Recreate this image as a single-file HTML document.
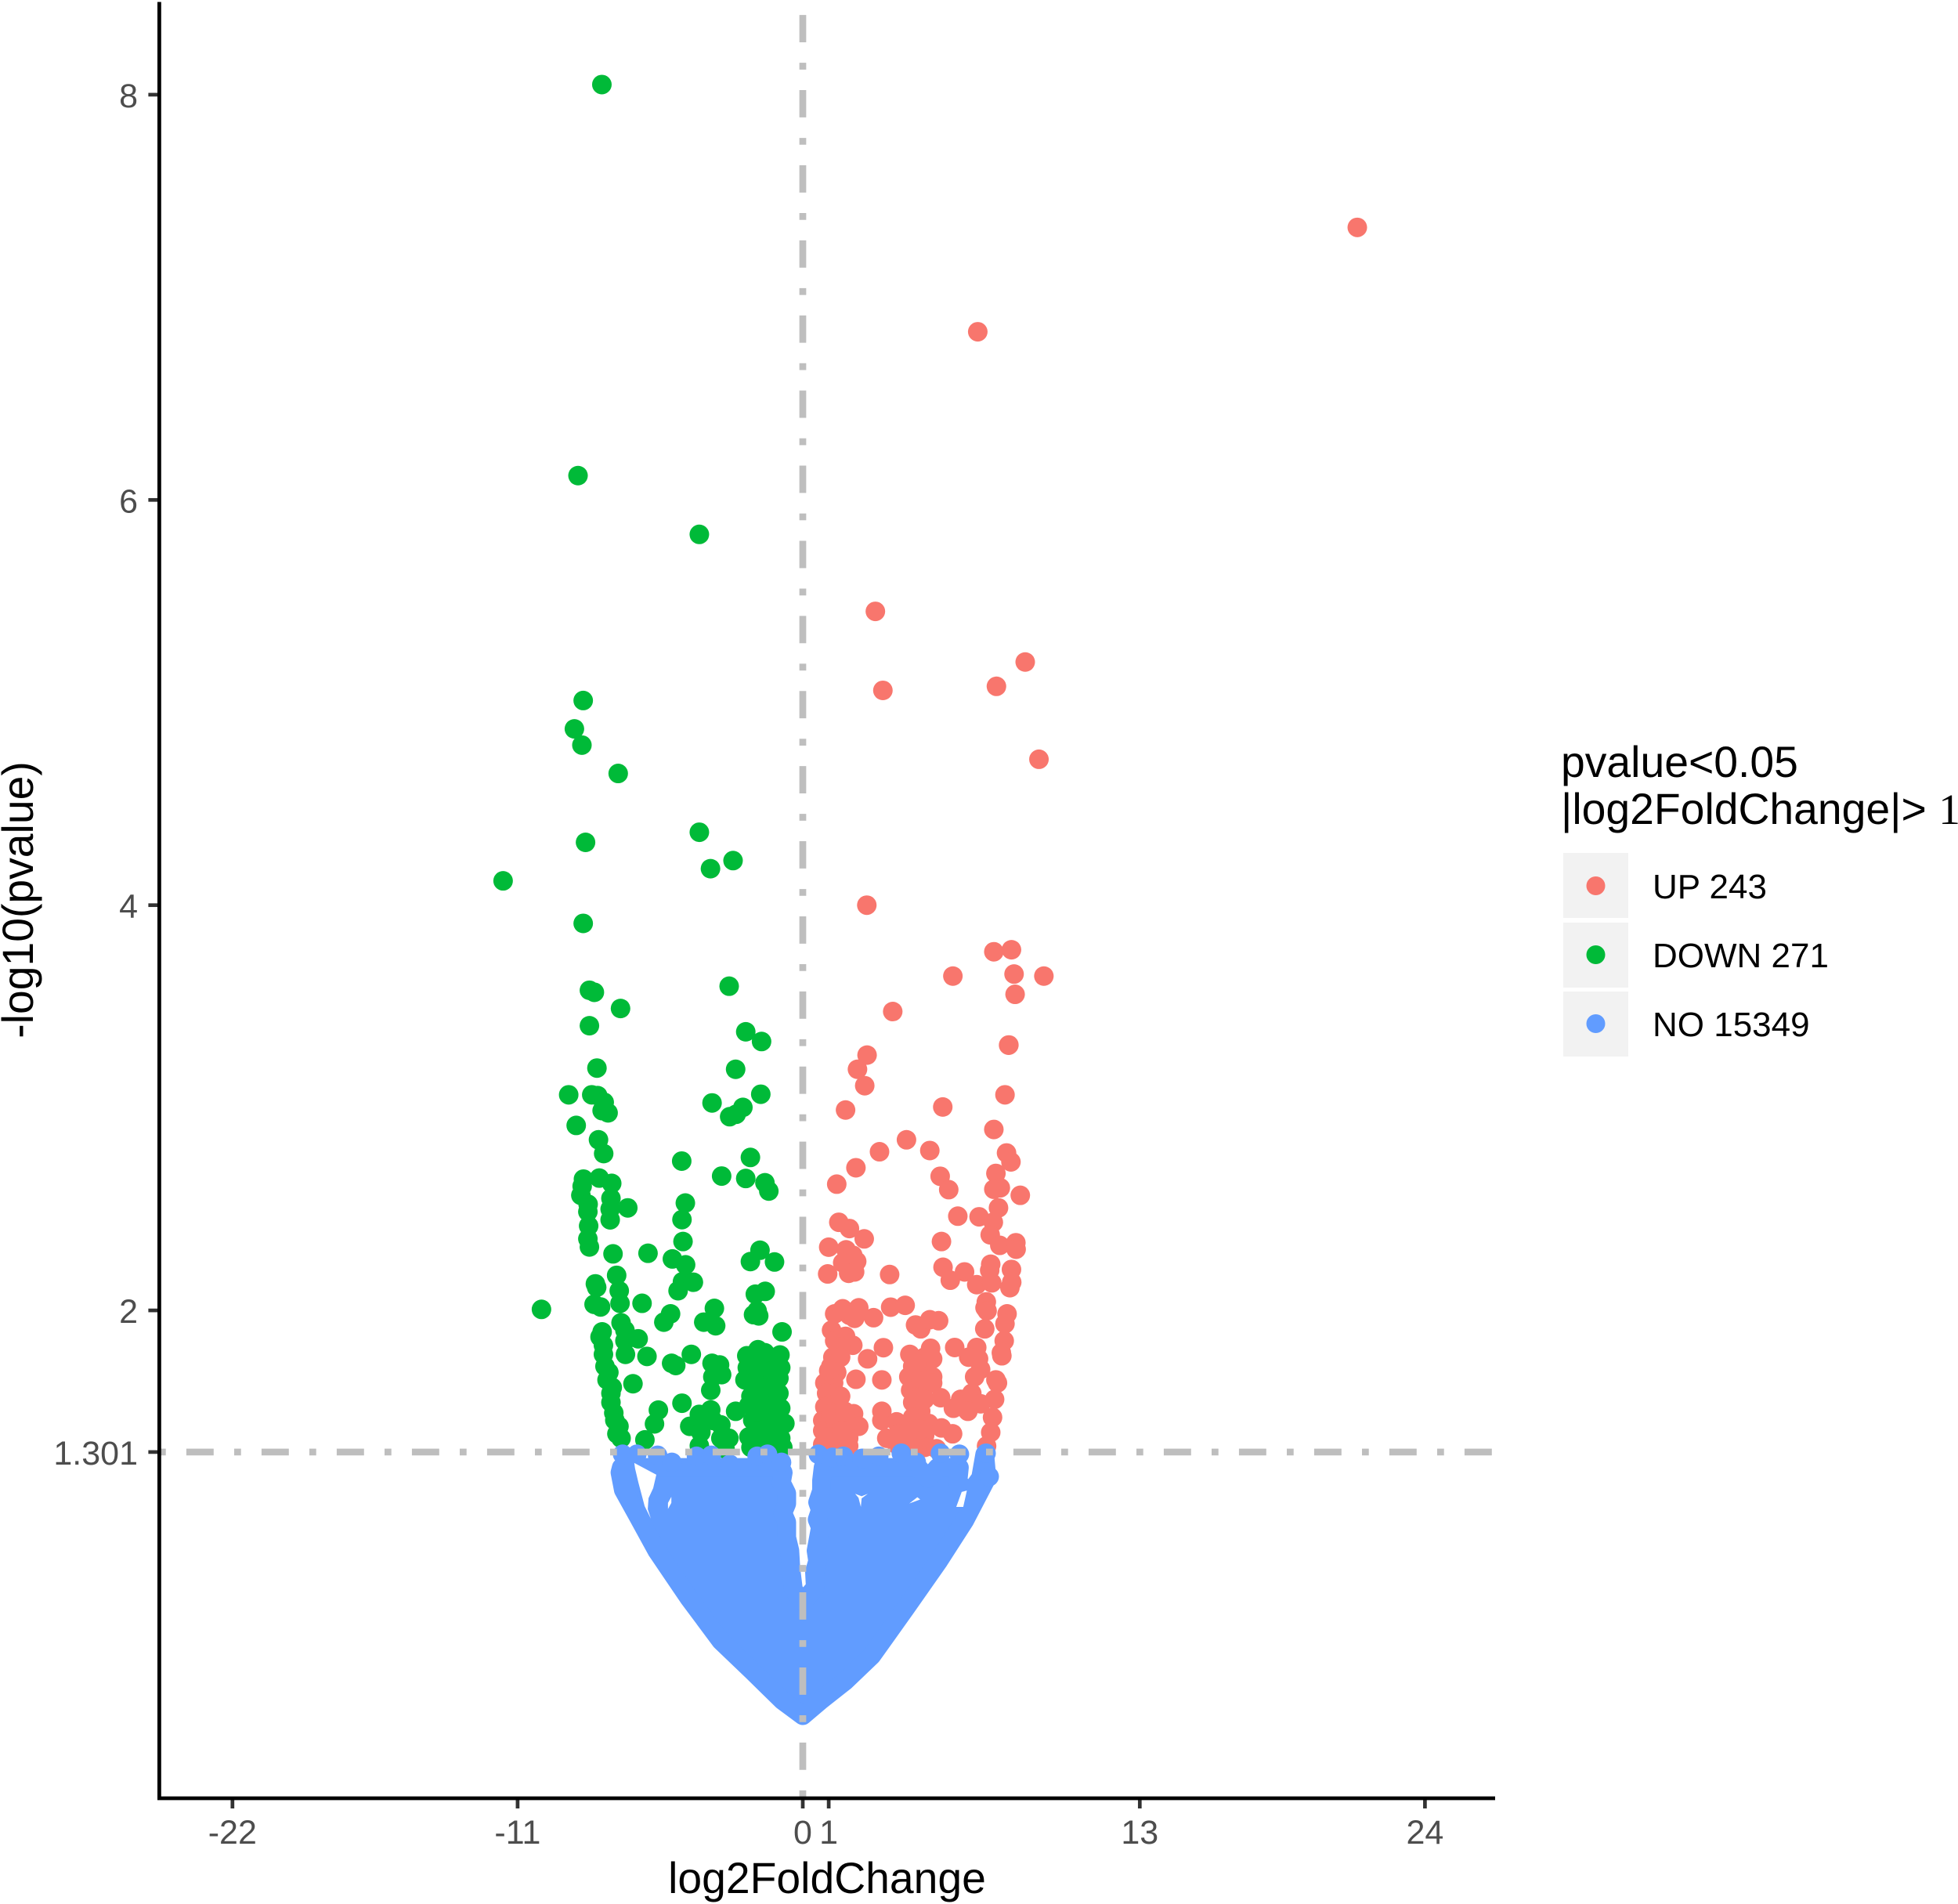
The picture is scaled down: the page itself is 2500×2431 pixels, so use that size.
<!DOCTYPE html>
<html lang="en">
<head>
<meta charset="utf-8">
<title>Volcano plot</title>
<style>
html,body{margin:0;padding:0;background:#fff;width:2500px;height:2431px;overflow:hidden}
svg{display:block}
text{font-family:"Liberation Sans",sans-serif}
.tick{font-size:43px;fill:#4D4D4D}
.title{font-size:55.3px;fill:#000}
.leg{font-size:44px;fill:#000}
</style>
</head>
<body>
<svg id="chart" xmlns="http://www.w3.org/2000/svg" width="2500" height="2431" viewBox="0 0 2500 2431">
  <rect width="2500" height="2431" fill="#fff"/>
  <g id="marks"></g>
  <g id="refs"></g>
  <g id="axes"></g>
  <text class="title" x="1056" y="2417" text-anchor="middle">log2FoldChange</text>
  <text class="title" transform="translate(42,1149) rotate(-90)" text-anchor="middle">-log10(pvalue)</text>
  <g>
    <text class="title" x="1993" y="992">pvalue&lt;0.05</text>
    <text class="title" x="1993" y="1052">|log2FoldChange|&gt; <tspan style="font-family:'Liberation Serif',serif">1</tspan></text>
    <g>
      <rect x="1996" y="1089" width="83" height="83" fill="#F2F2F2"/>
      <circle cx="2037.5" cy="1131" r="12" fill="#F8766D"/>
      <text class="leg" x="2110" y="1147">UP 243</text>
    </g>
    <g>
      <rect x="1996" y="1178" width="83" height="83" fill="#F2F2F2"/>
      <circle cx="2037.5" cy="1219" r="12" fill="#00BA38"/>
      <text class="leg" x="2110" y="1235">DOWN 271</text>
    </g>
    <g>
      <rect x="1996" y="1266" width="83" height="83" fill="#F2F2F2"/>
      <circle cx="2037.5" cy="1307" r="12" fill="#619CFF"/>
      <text class="leg" x="2110" y="1323">NO 15349</text>
    </g>
  </g>
</svg>
<script>
const xTickValues = [-22, -11, 0, 1, 13, 24];
const yTickValues = [1.301, 2, 4, 6, 8];
const yTickLabels = ['1.301', '2', '4', '6', '8'];
const pThreshold = 1.301;
const fcCenter = 0;

const upX = [21.39,6.75,2.80,8.58,3.09,7.47,9.11,2.47,7.37,8.05,5.79,8.15,9.30,8.19,3.47,7.95,
2.48,2.11,2.39,7.94,7.80,1.65,5.40,7.37,4.0,2.96,4.90,2.05,1.31,5.30,5.63,7.86,8.03,7.45,7.62,7.37,8.39,7.55,5.98,6.80,7.35,7.23,
1.39,1.80,2.37,1.0,5.35,7.6,8.22,8.23,1.67,1.93,1.54,2.08,.96,1.77,2.0,3.35,5.41,6.24,5.69,6.71,7.25,7.21,7.29,8.05,8.06,7.99,
7.08,7.03,7.11,7.88,7.80,7.02,1.23,1.54,2.16,1.80,2.0,2.73,3.39,3.95,4.35,4.55,4.90,5.24,1.11,1.65,1.23,1.93,1.46,7.77,7.66,7.68,
3.11,2.50,5.86,6.71,4.93,4.13,5.01,4.70,6.40,6.78,6.86,6.63,4.09,4.24,4.70,5.01,2.05,3.05,1.16,1.08,1.46,.85,1.31,1.19,1.23,.92,
.85,1.31,.77,1.23,.77,1.23,1.77,1.96,2.16,1.77,.77,1.77,1.23,7.45,7.51,7.40,7.32,7.25,7.09,6.09,6.52,6.86,5.81,6.37,5.32,4.16,4.62,5.01,
4.24,4.55,4.24,4.86,4.32,4.70,3.05,3.05,3.62,3.24,3.70,4.16,5.35,5.78,3.62,4.70,5.16,4.24,
1.0,1.46,1.08,1.0,1.54,1.62,4.39,4.70,4.55,4.09,4.55,4.39];
const upY = [7.345,6.83,5.45,5.20,5.06,5.08,4.72,4.0,3.77,3.78,3.65,3.66,3.65,3.56,3.475,3.31,
3.26,3.19,3.109,3.309,3.064,2.989,3.004,2.893,2.842,2.783,2.789,2.704,2.623,2.662,2.596,2.777,2.733,2.676,2.605,2.598,2.568,2.506,2.465,2.462,2.435,2.373,
2.435,2.404,2.353,2.312,2.34,2.321,2.334,2.302,2.299,2.272,2.235,2.242,2.18,2.183,2.19,2.177,2.213,2.19,2.149,2.127,2.228,2.198,2.136,2.202,2.139,2.112,
2.042,2.013,1.998,1.983,1.934,1.909,1.983,2.008,2.013,1.976,1.961,1.964,2.016,2.025,1.928,1.909,1.954,1.949,1.902,1.872,1.85,1.828,1.82,1.85,1.791,1.776,
1.816,1.761,1.817,1.817,1.813,1.783,1.761,1.769,1.769,1.761,1.709,1.672,1.672,1.724,1.709,1.672,1.66,1.657,1.769,1.724,1.769,1.642,1.694,1.642,1.591,1.591,
1.524,1.524,1.457,1.457,1.406,1.406,1.457,1.49,1.428,1.369,1.339,1.331,1.339,1.657,1.642,1.561,1.472,1.398,1.331,1.561,1.591,1.539,1.517,1.502,1.569,1.606,1.606,1.642,
1.546,1.502,1.472,1.442,1.413,1.383,1.502,1.457,1.45,1.369,1.391,1.369,1.42,1.391,1.339,1.324,1.317,1.331,
1.702,1.576,1.487,1.376,1.406,1.502,1.665,1.561,1.413,1.406,1.665,1.739];

const downX = [-7.75,-8.67,-3.99,-8.47,-8.81,-8.52,-7.12,-3.99,-2.69,-3.56,-8.38,-11.56,-8.47,-2.84,-8.23,-8.04,-7.03,
-8.23,-2.20,-1.59,-7.94,-2.59,-9.03,-8.14,-7.91,-7.66,-7.74,-7.51,-1.62,-3.50,-2.31,-2.57,-2.82,-8.74,-7.88,-7.68,-4.67,-2.02,-3.13,-2.20,-1.46,-1.31,
-8.46,-7.85,-7.37,-8.51,-8.56,-7.40,-8.28,-8.29,-7.43,-6.75,-7.43,-4.53,-4.66,-8.26,-8.29,-8.23,-7.32,-5.97,-4.62,-5.03,-4.52,-1.65,-2.02,-1.09,
-7.18,-8.0,-7.95,-7.08,-4.64,-4.22,-4.81,-1.45,-1.83,-8.05,-7.8,-7.05,-6.2,-10.08,-5.10,-5.36,-3.41,-3.82,-3.36,-1.76,-1.70,-1.90,-.80,
-7.01,-6.86,-6.35,-7.74,-7.82,-6.86,-6.84,-7.69,-7.69,-7.63,-6.01,-4.30,-5.06,-4.9,-6.55,-7.55,-7.40,-7.40,-7.29,-7.09,-7.01,-5.57,-5.72,-6.09,
-4.66,-3.55,-3.5,-3.21,-3.47,-3.13,-3.55,-3.99,-4.36,-3.16,-3.47,-3.93,-3.99,-3.16,-2.85,-3.0,-2.59,
-2.16,-1.73,-.88,-2.14,-1.46,-.85,-2.23,-1.62,-1.16,-2.0,-1.54,-.92,-2.08,-1.46,-.85,-1.93,-1.31,-.69,-2.08,-1.46,-.85,-2.0,-1.31,-.77,-1.69,-1.16,-1.8,-1.2,-1.75,-1.2,
-1.93,-1.16,-1.69,-1.16,-1.77,-1.0,-1.69,-1.08,-.92,-1.46,-7.48,-7.35,-7.25,-7.17];
const downY = [8.05,6.12,5.83,5.01,4.87,4.79,4.65,4.36,4.22,4.18,4.31,4.12,3.91,3.60,3.58,3.57,3.49,
3.405,3.375,3.327,3.196,3.19,3.064,3.064,3.06,3.027,2.986,2.975,3.067,3.024,3.002,2.968,2.956,2.913,2.842,2.774,2.737,2.755,2.663,2.651,2.63,2.589,
2.648,2.653,2.627,2.613,2.568,2.553,2.524,2.487,2.50,2.506,2.447,2.53,2.448,2.417,2.353,2.313,2.279,2.282,2.34,2.254,2.225,2.297,2.241,2.239,
2.173,2.131,2.114,2.097,2.142,2.139,2.097,2.094,2.08,2.03,2.017,2.035,2.035,2.005,1.983,1.942,2.01,1.942,1.924,1.998,1.973,1.979,1.894,
1.939,1.902,1.86,1.894,1.869,1.85,1.783,1.828,1.783,1.724,1.773,1.783,1.739,1.728,1.638,1.657,1.591,1.546,1.494,1.428,1.369,1.508,1.44,1.361,
1.542,1.606,1.739,1.731,1.672,1.683,1.509,1.487,1.428,1.435,1.457,1.398,1.332,1.369,1.369,1.317,1.502,
1.776,1.806,1.78,1.717,1.739,1.717,1.657,1.672,1.665,1.576,1.613,1.591,1.532,1.539,1.517,1.458,1.472,1.442,1.376,1.398,1.369,1.324,1.339,1.324,1.42,1.569,1.72,1.70,1.50,1.42,
1.643,1.62,1.576,1.517,1.502,1.458,1.376,1.376,1.665,1.791,1.694,1.62,1.458,1.391];

const noX = [-6.95,-6.40,-5.60,-5.05,-4.10,-3.53,-2.81,-1.76,-1.36,-.82,.60,1.15,1.57,2.29,2.93,3.80,4.38,5.31,6.04,7.07,7.19];
const noY = [1.29,1.29,1.285,1.25,1.28,1.285,1.24,1.28,1.29,1.25,1.29,1.275,1.28,1.27,1.28,1.295,1.25,1.295,1.29,1.295,1.18];

const noCloudX = [0,-.79,-1.93,-3.16,-4.40,-5.62,-6.34,-6.92,-7.05,-7.0,-.858,-.755,-.825,-.62,-.62,-.77,-.62,-.62,-.5,-.46,-.36,0,.483,.453,.574,.514,.68,.556,.68,.574,.725,.725,.785,4.45,4.83,5.2,6.04,5.98,6.45,6.86,7.02,7.10,6.25,5.23,3.97,2.66,1.63,.69];
const noCloudY = [0,.075,.218,.369,.582,.812,.98,1.114,1.2,1.225,1.225,1.2,1.15,1.097,1.046,1.0,.955,.879,.814,.725,.62,.56,.632,.71,.763,.814,.93,.968,1.015,1.053,1.11,1.16,1.225,1.225,1.17,1.225,1.225,1.15,1.1,1.173,1.29,1.173,.964,.761,.531,.296,.17,.075];

const gapAX = [-6.50,-5.65,-5.77,-5.95,-5.98,-5.86,-6.10,-6.34,-6.47];
const gapAY = [1.247,1.189,1.123,1.073,1.019,.972,1.034,1.15,1.22];
const gapBX = [2.02,2.27,2.51,2.27,2.24,2.15];
const gapBY = [1.095,1.083,1.095,1.072,1.03,1.075];
const gapCX = [4.11,4.53,4.42];
const gapCY = [1.047,1.067,1.078];
const gapDX = [6.13,6.33,6.19,5.92];
const gapDY = [1.104,1.111,1.03,1.03];
const gapEX = [-5.2,-5.07,-5.07,-5.2];
const gapEY = [1.05,1.08,1.05,1.02];

const NS = 'http://www.w3.org/2000/svg';
function xScale(v){ return 1025 + 33.1 * v; }
function yScale(v){ return 2190.5 - 258.7 * v; }
const plotLeft = 203.4, plotRight = 1909, plotTop = 2.5, plotBottom = 2296;
const dotRadius = 12.5;

const marks = document.getElementById('marks');
const refs = document.getElementById('refs');
const axes = document.getElementById('axes');

function make(tag, attrs, parent){
  const el = document.createElementNS(NS, tag);
  for (const k in attrs) el.setAttribute(k, attrs[k]);
  parent.appendChild(el);
  return el;
}

function drawSeries(xs, ys, color, name){
  const g = make('g', {}, marks);
  
  
  xs.forEach(function(x, i){
    const c = make('circle', {cx: xScale(x), cy: yScale(ys[i]), r: dotRadius, fill: color}, g);
    
    
  });
}

function polyPoints(xs, ys){
  return xs.map(function(x, i){ return xScale(x) + ',' + yScale(ys[i]); }).join(' ');
}

drawSeries(upX, upY, '#F8766D', 'up');
drawSeries(downX, downY, '#00BA38', 'down');

const cloud = make('polygon', {
  points: polyPoints(noCloudX, noCloudY),
  fill: '#619CFF', stroke: '#619CFF', 'stroke-width': 24, 'stroke-linejoin': 'round'
}, marks);


drawSeries(noX, noY, '#619CFF', 'no');

[[gapAX, gapAY], [gapBX, gapBY], [gapCX, gapCY], [gapDX, gapDY], [gapEX, gapEY]].forEach(function(gap){
  const hole = make('polygon', {points: polyPoints(gap[0], gap[1]), fill: '#fff'}, marks);
  
  
});

const hline = make('line', {x1: 203, x2: plotRight, y1: yScale(pThreshold), y2: yScale(pThreshold), stroke: '#BEBEBE', 'stroke-width': 8.7, 'stroke-dasharray': '8.73 26.2 34.87 26.2'}, refs);


const vline = make('line', {x1: xScale(fcCenter), x2: xScale(fcCenter), y1: 2294.6, y2: plotTop, stroke: '#BEBEBE', 'stroke-width': 8.7, 'stroke-dasharray': '8.72 26.15 34.88 26.15'}, refs);



xTickValues.forEach(function(v){
  const t = make('line', {x1: xScale(v), x2: xScale(v), y1: plotBottom, y2: plotBottom + 13, stroke: '#333', 'stroke-width': 4.7}, axes);
  
  
  const l = make('text', {x: xScale(v), y: 2354, 'text-anchor': 'middle', 'class': 'tick'}, axes);
  l.textContent = String(v);
  
  
});
yTickValues.forEach(function(v, i){
  const t = make('line', {x1: plotLeft - 14, x2: plotLeft, y1: yScale(v), y2: yScale(v), stroke: '#333', 'stroke-width': 4.7}, axes);
  
  
  const l = make('text', {x: 176, y: yScale(v) + 16, 'text-anchor': 'end', 'class': 'tick'}, axes);
  l.textContent = yTickLabels[i];
  
  
});
const xAxis = make('line', {x1: plotLeft - 2.4, x2: plotRight, y1: plotBottom, y2: plotBottom, stroke: '#000', 'stroke-width': 4.8}, axes);


const yAxis = make('line', {x1: plotLeft, x2: plotLeft, y1: plotTop, y2: plotBottom, stroke: '#000', 'stroke-width': 4.8}, axes);


</script>
</body>
</html>
